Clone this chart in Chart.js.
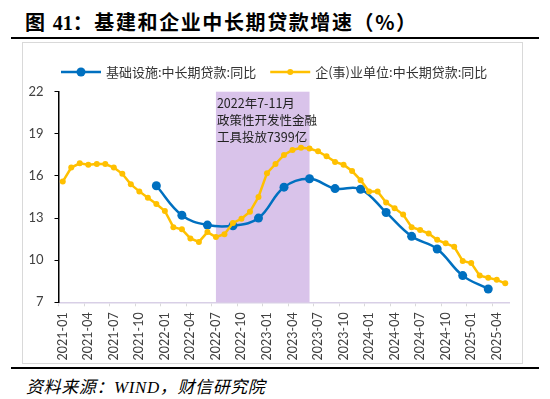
<!DOCTYPE html>
<html>
<head>
<meta charset="utf-8">
<script src="https://cdn.jsdelivr.net/npm/chart.js@4.4.1/dist/chart.umd.min.js"></script>
<style>
  body { margin: 0; width: 550px; height: 399px; position: relative; background: #fff; overflow: hidden; }
  .abs { position: absolute; }
  #title { left: 25px; top: 7px; font: bold 20px "Noto Sans CJK SC"; letter-spacing: 1.6px; color: #000; white-space: nowrap; }
  #title .num { font-family: "Liberation Serif"; letter-spacing: 0; }
  .rule { left: 11px; width: 528px; height: 2px; background: #000; }
  #box { left: 22px; top: 42px; width: 499px; height: 320px; border: 1px solid #d9d9d9; }
  #src { left: 26px; top: 373px; font: italic 17px "Noto Sans CJK SC"; letter-spacing: 0.6px; color: #000; white-space: nowrap; }
  #src .latin { font-family: "Liberation Serif"; }
  canvas { position: absolute; left: 0; top: 0; }
</style>
</head>
<body>
<div id="title" class="abs">图 <span class="num">41</span>：基建和企业中长期贷款增速（%）</div>
<div class="abs rule" style="top:37px"></div>
<div id="box" class="abs"></div>
<div class="abs rule" style="top:367px"></div>
<div id="src" class="abs">资料来源：<span class="latin">WIND</span>，财信研究院</div>
<canvas id="c" width="550" height="399"></canvas>
<script>
// months on the category axis
const months = [
  '2021-01','2021-02','2021-03','2021-04','2021-05','2021-06','2021-07','2021-08','2021-09','2021-10','2021-11','2021-12',
  '2022-01','2022-02','2022-03','2022-04','2022-05','2022-06','2022-07','2022-08','2022-09','2022-10','2022-11','2022-12',
  '2023-01','2023-02','2023-03','2023-04','2023-05','2023-06','2023-07','2023-08','2023-09','2023-10','2023-11','2023-12',
  '2024-01','2024-02','2024-03','2024-04','2024-05','2024-06','2024-07','2024-08','2024-09','2024-10','2024-11','2024-12',
  '2025-01','2025-02','2025-03','2025-04','2025-05'
];

// 基础设施:中长期贷款:同比 (quarterly)
const infraLoan = [
  null, null, null, null, null, null, null, null, null, null, null, 15.3,
  null, null, 13.2, null, null, 12.5, null, null, 12.45, null, null, 13.0,
  null, null, 15.2, null, null, 15.8, null, null, 15.1, null, null, 15.05,
  null, null, 13.4, null, null, 11.7, null, null, 10.8, null, null, 8.9,
  null, null, 7.95, null, null
];

// 企(事)业单位:中长期贷款:同比 (monthly)
const corpLoan = [
  15.6, 16.6, 16.9, 16.8, 16.85, 16.85, 16.6, 16.15, 15.4, 14.9, 14.45, 14.0,
  13.5, 12.35, 12.2, 11.55, 11.3, 12.0, 11.65, 11.85, 12.65, 12.95, 13.45, 14.5,
  16.2, 16.85, 17.5, 17.85, 18.0, 17.95, 17.75, 17.4, 17.0, 16.8, 16.35, 15.7,
  14.9, 14.9, 14.1, 13.7, 13.25, 12.35, 12.15, 11.9, 11.45, 11.2, 10.95, 9.95,
  9.8, 8.9, 8.75, 8.6, 8.35
];

const seriesNames = ['基础设施:中长期贷款:同比', '企(事)业单位:中长期贷款:同比'];
const shadeFrom = '2022-07';
const shadeTo = '2023-06';
const noteLines = ['2022年7-11月', '政策性开发性金融', '工具投放7399亿'];

// purple band for the policy-tool period, with its note
const shadePlugin = {
  id: 'shade',
  beforeDatasetsDraw(chart) {
    const { ctx, chartArea, scales } = chart;
    const x0 = scales.x.getPixelForValue(months.indexOf(shadeFrom));
    const x1 = scales.x.getPixelForValue(months.indexOf(shadeTo));
    ctx.save();
    ctx.fillStyle = '#d9c3ea';
    ctx.fillRect(x0, chartArea.top, x1 - x0, chartArea.bottom - chartArea.top);
    ctx.fillStyle = '#222';
    ctx.font = '12.5px "Noto Sans CJK SC"';
    ctx.textBaseline = 'middle';
    noteLines.forEach((t, i) => ctx.fillText(t, x0 + 1, chartArea.top + 12 + i * 17));
    ctx.restore();
  }
};

// excel-like legend: line with marker, then text
const legendPlugin = {
  id: 'lineLegend',
  afterDraw(chart) {
    const { ctx } = chart;
    let x = 61;
    const y = 72;
    ctx.save();
    ctx.font = '13px "Noto Sans CJK SC"';
    ctx.textBaseline = 'middle';
    chart.data.datasets.forEach(ds => {
      ctx.strokeStyle = ds.borderColor;
      ctx.lineWidth = ds.borderWidth;
      ctx.beginPath();
      ctx.moveTo(x, y);
      ctx.lineTo(x + 40, y);
      ctx.stroke();
      ctx.fillStyle = ds.borderColor;
      ctx.beginPath();
      ctx.arc(x + 20, y, ds.pointRadius, 0, Math.PI * 2);
      ctx.fill();
      ctx.fillStyle = '#333';
      ctx.fillText(ds.label, x + 45, y);
      x += 45 + ctx.measureText(ds.label).width + 14;
    });
    ctx.restore();
  }
};

new Chart(document.getElementById('c'), {
  type: 'line',
  data: {
    labels: months,
    datasets: [
      {
        label: seriesNames[0],
        data: infraLoan,
        borderColor: '#0070C0',
        backgroundColor: '#0070C0',
        borderWidth: 2.5,
        pointRadius: 4.5,
        pointBorderWidth: 0,
        spanGaps: true,
        tension: 0.4,
        order: 1
      },
      {
        label: seriesNames[1],
        data: corpLoan,
        borderColor: '#FFC000',
        backgroundColor: '#FFC000',
        borderWidth: 2.5,
        pointRadius: 3,
        pointBorderWidth: 0,
        tension: 0,
        order: 0
      }
    ]
  },
  options: {
    responsive: false,
    devicePixelRatio: 1,
    animation: false,
    layout: { padding: { left: 22, right: 40.5, top: 91.7, bottom: 36.7 } },
    plugins: {
      legend: { display: false },
      tooltip: { enabled: false }
    },
    scales: {
      x: {
        offset: true,
        afterFit: s => { s.height = 60; },
        border: { color: '#d8cfe6', width: 1.5 },
        grid: {
          offset: true,
          drawOnChartArea: false,
          tickLength: 4,
          color: c => (c.index % 3 === 0 ? '#d9d9d9' : 'rgba(0,0,0,0)')
        },
        ticks: {
          autoSkip: false,
          minRotation: 90,
          maxRotation: 90,
          padding: 6,
          color: '#404040',
          font: { family: 'Lato', size: 12.5 },
          callback: (v, i) => (i % 3 === 0 ? months[i] : '')
        }
      },
      y: {
        min: 7,
        max: 22,
        afterFit: s => { s.width = 36.5; },
        border: { color: '#000', width: 1.5 },
        grid: { drawOnChartArea: false, tickLength: 4, color: '#000' },
        ticks: {
          stepSize: 3,
          padding: 11,
          color: '#404040',
          font: { family: 'Lato', size: 13 }
        }
      }
    }
  },
  plugins: [shadePlugin, legendPlugin]
});
</script>
</body>
</html>
